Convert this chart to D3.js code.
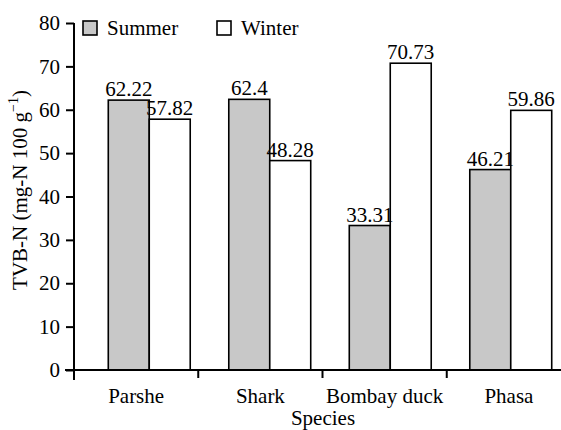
<!DOCTYPE html>
<html>
<head>
<meta charset="utf-8">
<script src="https://cdn.jsdelivr.net/npm/d3@7"></script>
</head>
<body style="margin:0;background:#fff">
<svg id="chart" width="561" height="430" style="display:block;font-family:'Times New Roman','Liberation Serif',serif"></svg>
<script>
// TVB-N content by species and season
const species = ["Parshe", "Shark", "Bombay duck", "Phasa"];
const seasons = ["Summer", "Winter"];
const summerValues = [62.22, 62.4, 33.31, 46.21];
const winterValues = [57.82, 48.28, 70.73, 59.86];
const yTicks = [0, 10, 20, 30, 40, 50, 60, 70, 80];

const seasonFill = { Summer: "#c8c8c8", Winter: "#ffffff" };
const rows = species.map((s, i) => ({
  species: s,
  values: [
    { season: "Summer", value: summerValues[i] },
    { season: "Winter", value: winterValues[i] }
  ]
}));

const fontSize = 21;

const svg = d3.select("#chart");

const plotLeft = 74, plotBottom = 370, plotTop = 23, plotRight = 571;

const y = d3.scaleLinear().domain([0, 80]).range([plotBottom, plotTop]);

// category slots for ticks and labels
const xCat = d3.scaleBand().domain(species).range([plotLeft, plotRight]);
// bar groups
const xGroup = d3.scaleBand().domain(species).range([89, plotRight])
  .paddingInner(0.32).paddingOuter(0.16);
const xSeason = d3.scaleBand().domain(seasons).range([0, xGroup.bandwidth()]);

function label(sel, size) {
  return sel.style("font-family", "'Times New Roman', 'Liberation Serif', serif")
    .style("font-size", size + "px")
    .attr("fill", "#000");
}

// bars
const groups = svg.append("g").selectAll("g").data(rows).join("g")
  .attr("transform", d => `translate(${xGroup(d.species)},0)`);

groups.selectAll("rect").data(d => d.values).join("rect")
  .attr("x", d => xSeason(d.season))
  .attr("y", d => y(d.value))
  .attr("width", xSeason.bandwidth())
  .attr("height", d => y(0) - y(d.value))
  .attr("fill", d => seasonFill[d.season])
  .attr("stroke", "#000")
  .attr("stroke-width", 1.6);

groups.selectAll("text.val").data(d => d.values).join("text")
  .attr("class", "val")
  .attr("x", d => xSeason(d.season) + xSeason.bandwidth() / 2)
  .attr("y", d => y(d.value) - 4)
  .attr("text-anchor", "middle")
  .call(label, fontSize)
  .text(d => d.value);

// y axis
const yAxis = svg.append("g")
  .attr("transform", `translate(${plotLeft},0)`)
  .call(d3.axisLeft(y).tickValues(yTicks).tickSize(8).tickPadding(6).tickSizeOuter(0));
yAxis.attr("font-family", null).attr("font-size", null);
yAxis.select(".domain").remove();
yAxis.selectAll(".tick line").attr("stroke", "#000").attr("stroke-width", 2);
yAxis.selectAll(".tick text").call(label, fontSize);
svg.append("line")
  .attr("x1", plotLeft).attr("x2", plotLeft)
  .attr("y1", y(80)).attr("y2", plotBottom + 10)
  .attr("stroke", "#000").attr("stroke-width", 2);

// x axis
svg.append("line")
  .attr("x1", plotLeft - 9).attr("x2", 561)
  .attr("y1", plotBottom).attr("y2", plotBottom)
  .attr("stroke", "#000").attr("stroke-width", 2);
svg.append("g").selectAll("line").data(species.slice(1)).join("line")
  .attr("x1", d => xCat(d)).attr("x2", d => xCat(d))
  .attr("y1", plotBottom).attr("y2", plotBottom + 8)
  .attr("stroke", "#000").attr("stroke-width", 2);
svg.append("g").selectAll("text").data(species).join("text")
  .attr("x", d => xCat(d) + xCat.bandwidth() / 2)
  .attr("y", 403)
  .attr("text-anchor", "middle")
  .call(label, fontSize)
  .text(d => d);

// axis titles
svg.append("text")
  .attr("x", 323).attr("y", 425)
  .attr("text-anchor", "middle")
  .call(label, fontSize)
  .text("Species");

const yTitle = svg.append("text")
  .attr("transform", "translate(27,190) rotate(-90)")
  .attr("text-anchor", "middle")
  .call(label, fontSize);
yTitle.append("tspan").text("TVB-N (mg-N 100 g");
yTitle.append("tspan").attr("dy", -9).style("font-size", "14px").text("\u22121");
yTitle.append("tspan").attr("dy", 9).text(")");

// legend
const legend = svg.append("g").selectAll("g").data(seasons).join("g")
  .attr("transform", (d, i) => `translate(${[83, 217][i]},21)`);
legend.append("rect")
  .attr("width", 14).attr("height", 14)
  .attr("fill", d => seasonFill[d])
  .attr("stroke", "#000").attr("stroke-width", 1.6);
legend.append("text")
  .attr("x", 24).attr("y", 13.5)
  .call(label, fontSize)
  .text(d => d);
</script>
</body>
</html>
